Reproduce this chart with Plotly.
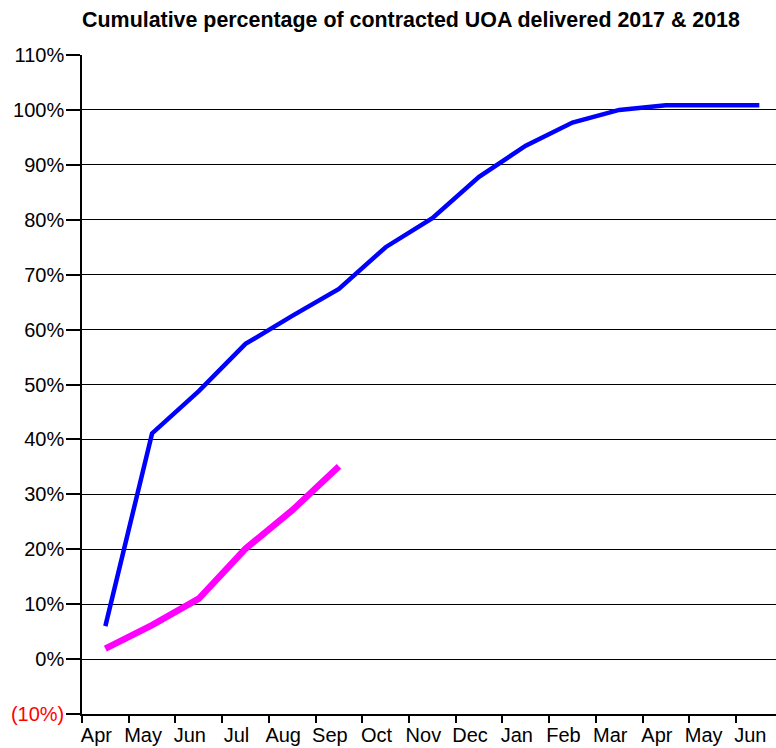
import plotly.graph_objects as go

months = ["Apr", "May", "Jun", "Jul", "Aug", "Sep", "Oct", "Nov", "Dec",
          "Jan", "Feb", "Mar", "Apr", "May", "Jun"]
pct_2017 = [6.0, 41.1, 48.8, 57.4, 62.5, 67.4, 75.0, 80.3, 87.8, 93.5, 97.7, 100.0, 100.85, 100.85, 100.85]
pct_2018 = [1.9, 6.2, 11.0, 20.1, 27.1, 35.1]
y_ticks = [-10, 0, 10, 20, 30, 40, 50, 60, 70, 80, 90, 100, 110]

x_idx = list(range(len(months)))
y_text = ["<span style='color:red'>(10%)</span>" if v < 0 else f"{v}%" for v in y_ticks]

fig = go.Figure()
fig.add_trace(go.Scatter(
    x=x_idx, y=pct_2017, mode="lines",
    line=dict(color="#0000FF", width=4.5),
    name="2017", showlegend=False,
))
fig.add_trace(go.Scatter(
    x=x_idx[:len(pct_2018)], y=pct_2018, mode="lines",
    line=dict(color="#FF00FF", width=6.5),
    name="2018", showlegend=False,
))

fig.update_layout(
    width=776, height=748,
    margin=dict(l=82, r=0, t=55, b=34),
    paper_bgcolor="white", plot_bgcolor="white",
    font=dict(family="Liberation Sans, Arial", size=20, color="black"),
    title=dict(
        text="<b>Cumulative percentage of contracted UOA delivered 2017 & 2018</b>",
        x=411 / 776, xanchor="center", y=1 - 20 / 748, yanchor="middle",
        font=dict(size=21.4, color="black"),
    ),
    xaxis=dict(
        range=[-0.5, 14.357], automargin=False,
        tickvals=x_idx, ticktext=months,
        ticks="", showgrid=False, zeroline=False,
        showline=True, linecolor="black", linewidth=1.5,
        minor=dict(tickvals=[i - 0.5 for i in x_idx], ticks="outside",
                   ticklen=7, tickcolor="black", tickwidth=1.5, showgrid=False),
        tickfont=dict(size=20), ticklabelstandoff=2, ticklabelshift=-9,
    ),
    yaxis=dict(
        range=[-10, 110], automargin=False,
        tickvals=y_ticks, ticktext=y_text,
        ticks="outside", ticklen=14, tickcolor="black", tickwidth=1.5,
        showgrid=True, gridcolor="black", gridwidth=1.2,
        zeroline=False, showline=True, linecolor="black", linewidth=1.5,
        tickfont=dict(size=20), ticklabelstandoff=-2,
    ),
)

# page body has a default 8px margin; drop it so the figure sits at the corner
fig.write_html("out.html", config={"displayModeBar": False},
               post_script="document.body.style.margin='0';")
